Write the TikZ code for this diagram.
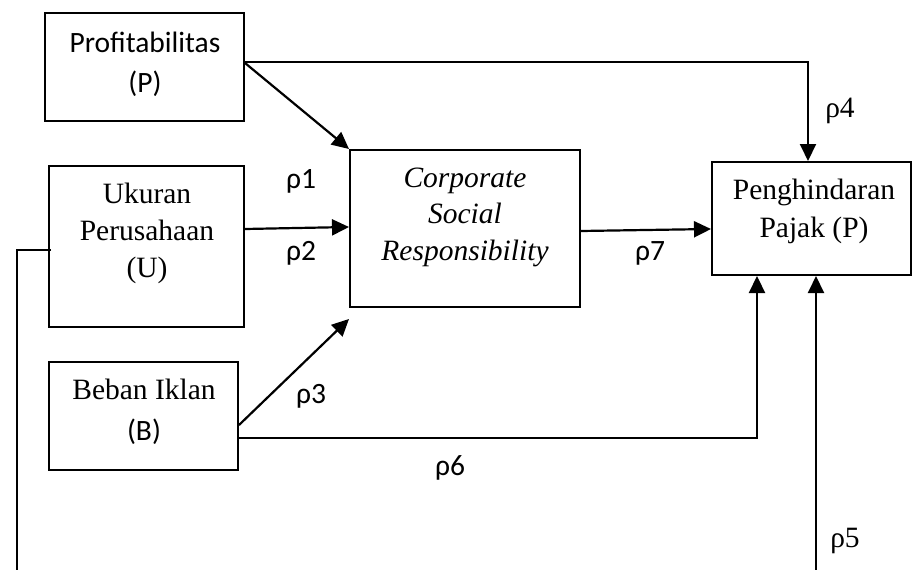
\documentclass[tikz,border=0pt]{standalone}
\usepackage{fontspec}
\setmainfont{Liberation Serif}
\newfontfamily\calf{Carlito}
\usetikzlibrary{arrows.meta}
\tikzset{
  box/.style={draw, line width=2pt, rectangle, inner sep=0pt},
  conn/.style={line width=2.2pt, -{Triangle[length=17pt,width=16pt]}},
  tr/.style={font=\fontsize{29.5}{35}\selectfont, inner sep=0pt, anchor=base},
  tri/.style={font=\fontsize{29.5}{35}\selectfont\itshape, inner sep=0pt, anchor=base},
  ca/.style={font=\calf\fontsize{29.5}{35}\selectfont, inner sep=0pt, anchor=base}
}
\begin{document}
\begin{tikzpicture}[x=1pt,y=-1pt]
\useasboundingbox (0,0) rectangle (913,570);
% boxes
\node[box, minimum width=199pt, minimum height=108pt] (P) at (144.5,67) {};
\node[box, minimum width=195pt, minimum height=161pt] (U) at (146.5,246.5) {};
\node[box, minimum width=230pt, minimum height=157pt] (CSR) at (465,228.5) {};
\node[box, minimum width=199pt, minimum height=113pt] (PJ) at (811.5,218.5) {};
\node[box, minimum width=189pt, minimum height=108pt] (B) at (143.5,416) {};
% box texts
\node[ca] (tP1) at (145,52) {Profitabilitas};
\node[ca] (tP2) at (145,92) {(P)};
\node[tr] (tU1) at (147,203) {Ukuran};
\node[tr] (tU2) at (147,240) {Perusahaan};
\node[tr] (tU3) at (147,277) {(U)};
\node[tri] (tC1) at (465,187) {Corporate};
\node[tri] (tC2) at (465,223) {Social};
\node[tri] (tC3) at (465,260) {Responsibility};
\node[tr] (tJ1) at (814,199) {Penghindaran};
\node[tr] (tJ2) at (814,237) {Pajak (P)};
\node[tr] (tB1) at (144,399) {Beban Iklan};
\node[ca] (tB2) at (144,440) {(B)};
% connectors
\draw[conn] ([yshift=4pt]P.east) -- (CSR.north west);
\draw[conn, line width=2pt] ([yshift=5pt]P.east) -| ([xshift=-3.5pt]PJ.north);
\draw[conn] ([yshift=17.5pt]U.east) -- ([yshift=1.5pt]CSR.west);
\draw[conn] ([yshift=-2.5pt]CSR.east) -- ([yshift=-10.5pt]PJ.west);
\draw[conn] ([yshift=-9pt]B.east) -- ([yshift=-11pt]CSR.south west);
\draw[conn] ([yshift=-22pt]B.east) -| ([xshift=-54.5pt]PJ.south);
\coordinate (c1) at (17,250);
\coordinate (c2) at (17,570.8);
\draw[conn, line width=2pt] ([xshift=3pt,yshift=-3.5pt]U.west) -- (c1) -- (c2) -| ([xshift=4.5pt]PJ.south);
% labels
\node[ca] (r1) at (301,188) {ρ1};
\node[ca] (r2) at (301,260) {ρ2};
\node[ca] (r3) at (311,403) {ρ3};
\node[tr] (r4) at (840,117) {ρ4};
\node[tr] (r5) at (845,547) {ρ5};
\node[ca] (r6) at (450,475) {ρ6};
\node[ca] (r7) at (650,260) {ρ7};
\end{tikzpicture}
\end{document}
